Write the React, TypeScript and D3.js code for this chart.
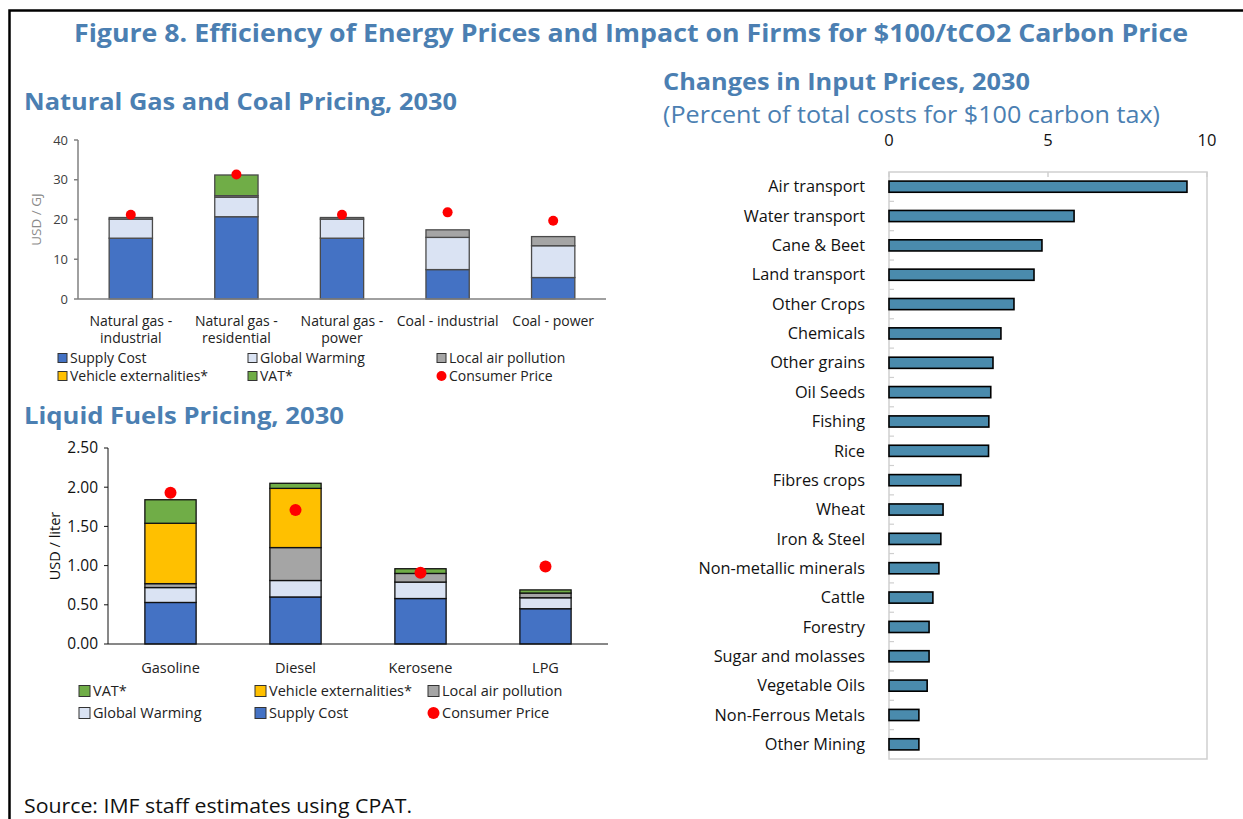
import React from "react";
import * as d3 from "d3";

// ---------- Data ----------
const gasCategories = [
  ["Natural gas -", "industrial"],
  ["Natural gas -", "residential"],
  ["Natural gas -", "power"],
  ["Coal - industrial"],
  ["Coal - power"],
];
const gasSupply = [15.3, 20.7, 15.3, 7.4, 5.4];
const gasGlobalWarming = [4.8, 4.9, 4.8, 8.1, 8.0];
const gasLocalAir = [0.4, 0.4, 0.4, 1.9, 2.3];
const gasVehicle = [0, 0, 0, 0, 0];
const gasVAT = [0, 5.2, 0, 0, 0];
const gasConsumer = [21.2, 31.3, 21.2, 21.8, 19.7];
const gasTicks = [0, 10, 20, 30, 40];

const fuelCategories = ["Gasoline", "Diesel", "Kerosene", "LPG"];
const fuelSupply = [0.53, 0.6, 0.58, 0.45];
const fuelGlobalWarming = [0.19, 0.21, 0.21, 0.14];
const fuelLocalAir = [0.05, 0.42, 0.11, 0.06];
const fuelVehicle = [0.77, 0.755, 0, 0];
const fuelVAT = [0.3, 0.065, 0.06, 0.04];
const fuelConsumer = [1.93, 1.71, 0.91, 0.99];
const fuelTicks = [0, 0.5, 1.0, 1.5, 2.0, 2.5];

const sectors = [
  "Air transport", "Water transport", "Cane & Beet", "Land transport", "Other Crops",
  "Chemicals", "Other grains", "Oil Seeds", "Fishing", "Rice", "Fibres crops", "Wheat",
  "Iron & Steel", "Non-metallic minerals", "Cattle", "Forestry", "Sugar and molasses",
  "Vegetable Oils", "Non-Ferrous Metals", "Other Mining",
];
const sectorValues = [
  9.37, 5.82, 4.81, 4.56, 3.93, 3.52, 3.27, 3.2, 3.14, 3.13, 2.26, 1.7, 1.63, 1.57,
  1.38, 1.26, 1.26, 1.2, 0.94, 0.94,
];
const sectorTicks = [0, 5, 10];

// ---------- Styles ----------
const FONT = "'Open Sans', 'Noto Sans', sans-serif";
const BLUE_TITLE = "#4B7FB2";
const C_SUPPLY = "#4472C4";
const C_GW = "#DAE3F3";
const C_LAP = "#A5A5A5";
const C_VE = "#FFC000";
const C_VAT = "#70AD47";
const C_CP = "#FF0000";
const C_SECTOR = "#4A8BAD";

const seriesKeys = ["supply", "gw", "lap", "ve", "vat"];
const seriesColors: Record<string, string> = {
  supply: C_SUPPLY, gw: C_GW, lap: C_LAP, ve: C_VE, vat: C_VAT,
};

function buildRows(cats: any[], s: number[], g: number[], l: number[], v: number[], t: number[]) {
  return cats.map((c, i) => ({ cat: i, supply: s[i], gw: g[i], lap: l[i], ve: v[i], vat: t[i] }));
}

function StackedChart(props: {
  rows: any[]; consumer: number[]; ticks: number[]; x0: number; x1: number;
  yBottom: number; yTop: number; labels: (string[])[]; tickFmt: (d: number) => string;
  tickFont: number; tickColor: string; axisColor: string; axisWidth: number; barStroke: string;
  catFont: number; catY: number; catLineH: number; yLabel: string; yLabelX: number;
  yLabelFont: number; yLabelColor: string; pad: number; dotR: number;
}) {
  const p = props;
  const x = d3.scaleBand<number>().domain(p.rows.map((r) => r.cat)).range([p.x0, p.x1]).paddingInner(p.pad).paddingOuter(p.pad / 2);
  const y = d3.scaleLinear().domain([p.ticks[0], p.ticks[p.ticks.length - 1]]).range([p.yBottom, p.yTop]);
  const stack = d3.stack<any>().keys(seriesKeys)(p.rows);
  return (
    <g>
      <line x1={p.x0} x2={p.x0} y1={y(p.ticks[0])} y2={y(p.ticks[p.ticks.length - 1])} stroke={p.axisColor} strokeWidth={p.axisWidth} />
      {p.ticks.map((t) => (
        <g key={t}>
          <line x1={p.x0 - 4} x2={p.x0} y1={y(t)} y2={y(t)} stroke={p.axisColor} strokeWidth={p.axisWidth} />
          <text x={p.x0 - 10} y={y(t)} dy="0.35em" textAnchor="end" fontSize={p.tickFont} fill={p.tickColor} fontFamily={FONT}>
            {p.tickFmt(t)}
          </text>
        </g>
      ))}
      <text transform={`translate(${p.yLabelX},${(p.yBottom + p.yTop) / 2}) rotate(-90)`} textAnchor="middle" fontSize={p.yLabelFont} fill={p.yLabelColor} fontFamily={FONT}>
        {p.yLabel}
      </text>
      {stack.map((layer) =>
        layer.map((d, i) => {
          const h = y(d[0]) - y(d[1]);
          if (h <= 0.01) return null;
          return (
            <rect key={layer.key + i} x={x(i)} width={x.bandwidth()} y={y(d[1])} height={h}
              fill={seriesColors[layer.key]} stroke={p.barStroke} strokeWidth={1.3} />
          );
        })
      )}
      <line x1={p.x0} x2={p.x1} y1={y(0)} y2={y(0)} stroke={p.axisColor} strokeWidth={p.axisWidth} />
      {p.consumer.map((v, i) => (
        <circle key={i} cx={(x(i) as number) + x.bandwidth() / 2} cy={y(v)} r={p.dotR} fill={C_CP} />
      ))}
      {p.labels.map((lines, i) => (
        <text key={i} x={(x(i) as number) + x.bandwidth() / 2} y={p.catY} textAnchor="middle" fontSize={p.catFont} fill="#222" fontFamily={FONT}>
          {lines.map((ln, k) => (
            <tspan key={k} x={(x(i) as number) + x.bandwidth() / 2} dy={k === 0 ? 0 : p.catLineH}>{ln}</tspan>
          ))}
        </text>
      ))}
    </g>
  );
}

function Legend(props: { items: { label: string; color: string; dot?: boolean; x: number; y: number }[]; size: number; font: number }) {
  return (
    <g>
      {props.items.map((it, i) => (
        <g key={i}>
          {it.dot ? (
            <circle cx={it.x + props.size / 2} cy={it.y} r={props.size / 2 + 0.5} fill={it.color} />
          ) : (
            <rect x={it.x} y={it.y - props.size / 2} width={props.size} height={props.size} fill={it.color} stroke="#333" strokeWidth={1} />
          )}
          <text x={it.x + props.size + 3} y={it.y} dy="0.35em" fontSize={props.font} fill="#222" fontFamily={FONT}>{it.label}</text>
        </g>
      ))}
    </g>
  );
}

export default function App() {
  const gasRows = buildRows(gasCategories, gasSupply, gasGlobalWarming, gasLocalAir, gasVehicle, gasVAT);
  const fuelRows = buildRows(fuelCategories, fuelSupply, fuelGlobalWarming, fuelLocalAir, fuelVehicle, fuelVAT);

  const rx0 = 889, rx1 = 1207, ryTop = 172, ryBot = 759;
  const xs = d3.scaleLinear().domain([0, 10]).range([rx0, rx1]);
  const ys = d3.scaleBand<string>().domain(sectors).range([ryTop, ryBot]).paddingInner(0.62).paddingOuter(0.31);
  const step = ys.step();

  return (
    <div style={{ position: "absolute", left: 0, top: 0, width: 1243, height: 819, background: "#fff" }}>
      <svg width={1243} height={819} style={{ display: "block" }}>
        <rect x={0} y={0} width={1243} height={819} fill="#fff" />
        <path d="M9.5,830 L9.5,10.5 L1250,10.5" fill="none" stroke="#000" strokeWidth={2.5} />

        <text x={631} y={42} textAnchor="middle" fontSize={25} fontWeight={700} fill={BLUE_TITLE} fontFamily={FONT} textLength={1114} lengthAdjust="spacingAndGlyphs">
          Figure 8. Efficiency of Energy Prices and Impact on Firms for $100/tCO2 Carbon Price
        </text>
        <text x={24} y={110} fontSize={23} fontWeight={700} fill={BLUE_TITLE} fontFamily={FONT} textLength={433} lengthAdjust="spacingAndGlyphs">
          Natural Gas and Coal Pricing, 2030
        </text>
        <text x={24} y={424} fontSize={23} fontWeight={700} fill={BLUE_TITLE} fontFamily={FONT} textLength={320} lengthAdjust="spacingAndGlyphs">
          Liquid Fuels Pricing, 2030
        </text>
        <text x={663} y={90} fontSize={23} fontWeight={700} fill={BLUE_TITLE} fontFamily={FONT} textLength={367} lengthAdjust="spacingAndGlyphs">
          Changes in Input Prices, 2030
        </text>
        <text x={663} y={123} fontSize={23} fill={BLUE_TITLE} fontFamily={FONT} textLength={497} lengthAdjust="spacingAndGlyphs">
          (Percent of total costs for $100 carbon tax)
        </text>
        <text x={24} y={813} fontSize={20} fill="#111" fontFamily={FONT} textLength={388} lengthAdjust="spacingAndGlyphs">
          Source: IMF staff estimates using CPAT.
        </text>

        <StackedChart rows={gasRows} consumer={gasConsumer} ticks={gasTicks} x0={78} x1={606}
          yBottom={299} yTop={140} labels={gasCategories} tickFmt={(d) => String(d)}
          tickFont={13} tickColor="#404040" axisColor="#808080" axisWidth={1.5} barStroke="#4a4a4a"
          catFont={14} catY={326} catLineH={17} yLabel="USD / GJ" yLabelX={41} yLabelFont={13.5}
          yLabelColor="#8a8a8a" pad={0.59} dotR={5} />
        <Legend size={9} font={14} items={[
          { label: "Supply Cost", color: C_SUPPLY, x: 58, y: 358 },
          { label: "Global Warming", color: C_GW, x: 248, y: 358 },
          { label: "Local air pollution", color: C_LAP, x: 437, y: 358 },
          { label: "Vehicle externalities*", color: C_VE, x: 58, y: 376 },
          { label: "VAT*", color: C_VAT, x: 248, y: 376 },
          { label: "Consumer Price", color: C_CP, dot: true, x: 437, y: 376 },
        ]} />

        <StackedChart rows={fuelRows} consumer={fuelConsumer} ticks={fuelTicks} x0={108} x1={608}
          yBottom={644} yTop={448} labels={fuelCategories.map((c) => [c])} tickFmt={(d) => d3.format(".2f")(d)}
          tickFont={15.5} tickColor="#111" axisColor="#111" axisWidth={1} barStroke="#111"
          catFont={14.5} catY={673} catLineH={17} yLabel="USD / liter" yLabelX={60} yLabelFont={14.5}
          yLabelColor="#111" pad={0.59} dotR={6} />
        <Legend size={11} font={14.5} items={[
          { label: "VAT*", color: C_VAT, x: 79, y: 691 },
          { label: "Vehicle externalities*", color: C_VE, x: 255, y: 691 },
          { label: "Local air pollution", color: C_LAP, x: 428, y: 691 },
          { label: "Global Warming", color: C_GW, x: 79, y: 713 },
          { label: "Supply Cost", color: C_SUPPLY, x: 255, y: 713 },
          { label: "Consumer Price", color: C_CP, dot: true, x: 428, y: 713 },
        ]} />

        <rect x={rx0} y={ryTop} width={rx1 - rx0} height={ryBot - ryTop} fill="none" stroke="#cfcfcf" strokeWidth={1.5} />
        {sectorTicks.map((t) => (
          <g key={t}>
            <line x1={xs(t)} x2={xs(t)} y1={ryTop} y2={ryTop + 5} stroke="#cfcfcf" strokeWidth={1.5} />
            <text x={xs(t)} y={146} textAnchor="middle" fontSize={16.5} fill="#111" fontFamily={FONT}>{t}</text>
          </g>
        ))}
        {sectors.slice(1).map((s, i) => (
          <line key={s} x1={rx0} x2={rx0 + 5} y1={ryTop + step * (i + 1)} y2={ryTop + step * (i + 1)} stroke="#cfcfcf" strokeWidth={1.2} />
        ))}
        {sectors.map((s, i) => (
          <g key={s}>
            <rect x={xs(0)} y={ys(s)} width={xs(sectorValues[i]) - xs(0)} height={ys.bandwidth()} fill={C_SECTOR} stroke="#000" strokeWidth={1.6} />
            <text x={865} y={(ys(s) as number) + ys.bandwidth() / 2} dy="0.35em" textAnchor="end" fontSize={16.3} fill="#111" fontFamily={FONT}>{s}</text>
          </g>
        ))}
      </svg>
    </div>
  );
}
